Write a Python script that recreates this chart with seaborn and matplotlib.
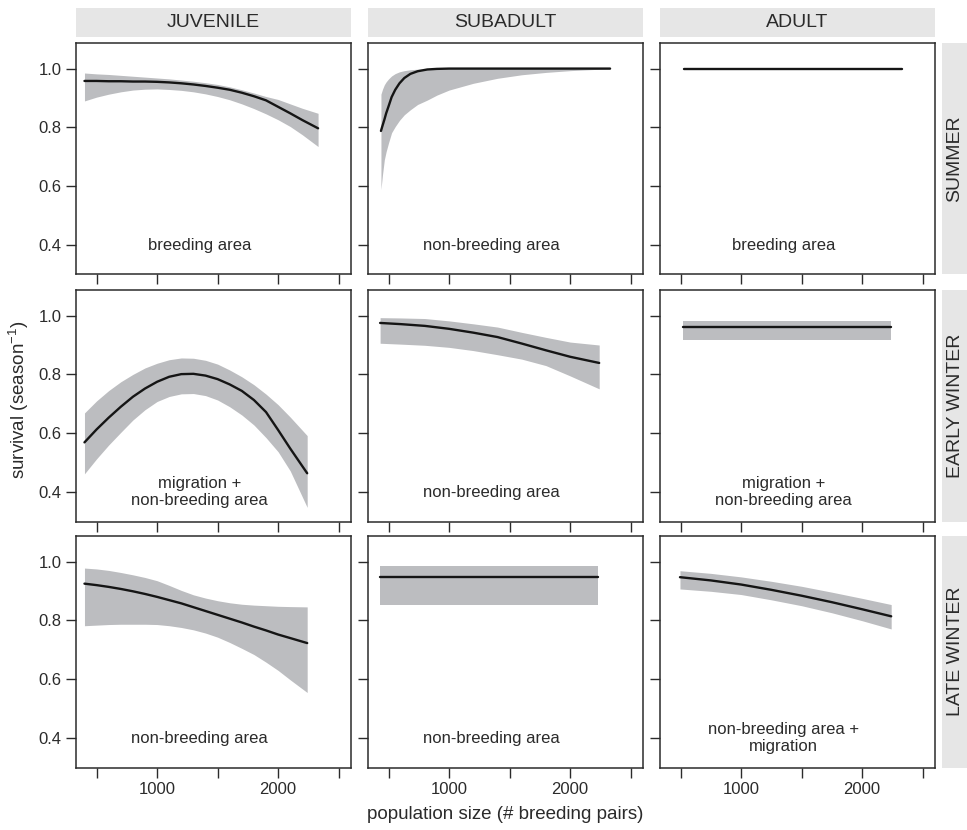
import matplotlib
matplotlib.use("Agg")
import matplotlib.pyplot as plt
from matplotlib.patches import Rectangle
import pandas as pd
import seaborn as sns

# ---------------------------------------------------------------------------
# Facet labels
# ---------------------------------------------------------------------------
stages = ["JUVENILE", "SUBADULT", "ADULT"]
seasons = ["SUMMER", "EARLY WINTER", "LATE WINTER"]

area_labels = [
    ["breeding area", "non-breeding area", "breeding area"],
    ["migration +\nnon-breeding area", "non-breeding area", "migration +\nnon-breeding area"],
    ["non-breeding area", "non-breeding area", "non-breeding area +\nmigration"],
]

x_ticks = [500, 1000, 1500, 2000, 2500]
x_ticklabels = ["", "1000", "", "2000", ""]
y_ticks = [0.4, 0.6, 0.8, 1.0]
y_ticklabels = ["0.4", "0.6", "0.8", "1.0"]

# ---------------------------------------------------------------------------
# Fitted survival (fit) with 95% credible band (lo, hi) vs. population size
# ---------------------------------------------------------------------------
# Summer
juv_sum_x   = [400, 500, 600, 700, 800, 900, 1000, 1100, 1200, 1300, 1400,
               1500, 1600, 1700, 1800, 1900, 2000, 2100, 2200, 2330]
juv_sum_fit = [0.958, 0.958, 0.957, 0.957, 0.956, 0.956, 0.955, 0.953, 0.950, 0.946, 0.941,
               0.935, 0.928, 0.918, 0.906, 0.892, 0.870, 0.848, 0.825, 0.797]
juv_sum_lo  = [0.890, 0.903, 0.913, 0.921, 0.927, 0.930, 0.931, 0.929, 0.926, 0.921, 0.914,
               0.905, 0.894, 0.880, 0.864, 0.846, 0.826, 0.803, 0.775, 0.735]
juv_sum_hi  = [0.985, 0.982, 0.980, 0.977, 0.974, 0.971, 0.968, 0.965, 0.961, 0.957, 0.952,
               0.946, 0.938, 0.928, 0.917, 0.905, 0.895, 0.880, 0.865, 0.848]

sub_sum_x   = [437, 450, 465, 480, 500, 525, 555, 590, 630, 680, 740, 820, 900, 1000,
               1200, 1400, 1600, 1800, 2000, 2200, 2330]
sub_sum_fit = [0.788, 0.806, 0.826, 0.848, 0.872, 0.903, 0.928, 0.950, 0.968, 0.982, 0.991,
               0.997, 0.999, 1.000, 1.000, 1.000, 1.000, 1.000, 1.000, 1.000, 1.000]
sub_sum_lo  = [0.589, 0.640, 0.690, 0.718, 0.748, 0.782, 0.803, 0.824, 0.843, 0.860, 0.878,
               0.893, 0.910, 0.927, 0.950, 0.967, 0.979, 0.987, 0.993, 0.997, 0.999]
sub_sum_hi  = [0.913, 0.930, 0.945, 0.955, 0.965, 0.975, 0.983, 0.989, 0.993, 0.996, 0.998,
               0.999, 1.000, 1.000, 1.000, 1.000, 1.000, 1.000, 1.000, 1.000, 1.000]

ad_sum_x   = [525, 2330]
ad_sum_fit = [1.000, 1.000]
ad_sum_lo  = [1.000, 1.000]
ad_sum_hi  = [1.000, 1.000]

# Early winter
juv_ew_x   = [400, 500, 600, 700, 800, 900, 1000, 1100, 1200, 1300, 1400,
              1500, 1600, 1700, 1800, 1900, 2000, 2100, 2240]
juv_ew_fit = [0.569, 0.613, 0.653, 0.690, 0.724, 0.752, 0.775, 0.792, 0.801, 0.802, 0.796,
              0.784, 0.766, 0.744, 0.713, 0.672, 0.611, 0.548, 0.464]
juv_ew_lo  = [0.462, 0.513, 0.560, 0.603, 0.645, 0.680, 0.708, 0.725, 0.734, 0.735, 0.728,
              0.713, 0.690, 0.662, 0.628, 0.585, 0.537, 0.472, 0.348]
juv_ew_hi  = [0.669, 0.710, 0.745, 0.775, 0.800, 0.822, 0.838, 0.850, 0.856, 0.855, 0.848,
              0.835, 0.815, 0.792, 0.765, 0.733, 0.697, 0.655, 0.592]

sub_ew_x   = [430, 600, 800, 1000, 1200, 1400, 1600, 1800, 2000, 2240]
sub_ew_fit = [0.975, 0.971, 0.965, 0.955, 0.942, 0.927, 0.905, 0.882, 0.860, 0.839]
sub_ew_lo  = [0.906, 0.903, 0.899, 0.892, 0.881, 0.867, 0.852, 0.830, 0.795, 0.751]
sub_ew_hi  = [0.993, 0.992, 0.990, 0.982, 0.972, 0.961, 0.943, 0.926, 0.910, 0.900]

ad_ew_x   = [517, 2240]
ad_ew_fit = [0.960, 0.960]
ad_ew_lo  = [0.917, 0.917]
ad_ew_hi  = [0.981, 0.981]

# Late winter
juv_lw_x   = [400, 500, 600, 700, 800, 900, 1000, 1100, 1200, 1300, 1400,
              1500, 1600, 1700, 1800, 1900, 2000, 2100, 2240]
juv_lw_fit = [0.925, 0.920, 0.914, 0.907, 0.899, 0.890, 0.880, 0.869, 0.858, 0.845, 0.832,
              0.819, 0.806, 0.793, 0.779, 0.766, 0.752, 0.740, 0.723]
juv_lw_lo  = [0.782, 0.784, 0.786, 0.787, 0.787, 0.787, 0.786, 0.782, 0.776, 0.768, 0.757,
              0.743, 0.725, 0.705, 0.684, 0.658, 0.630, 0.598, 0.555]
juv_lw_hi  = [0.978, 0.975, 0.970, 0.963, 0.955, 0.946, 0.935, 0.919, 0.902, 0.887, 0.876,
              0.867, 0.860, 0.855, 0.852, 0.850, 0.848, 0.847, 0.846]

sub_lw_x   = [430, 2231]
sub_lw_fit = [0.948, 0.948]
sub_lw_lo  = [0.854, 0.854]
sub_lw_hi  = [0.986, 0.986]

ad_lw_x   = [495, 750, 1000, 1250, 1500, 1750, 2000, 2240]
ad_lw_fit = [0.947, 0.936, 0.922, 0.904, 0.884, 0.862, 0.838, 0.814]
ad_lw_lo  = [0.907, 0.899, 0.888, 0.870, 0.850, 0.826, 0.799, 0.771]
ad_lw_hi  = [0.969, 0.960, 0.948, 0.933, 0.916, 0.896, 0.875, 0.854]

panels = [
    [(juv_sum_x, juv_sum_fit, juv_sum_lo, juv_sum_hi),
     (sub_sum_x, sub_sum_fit, sub_sum_lo, sub_sum_hi),
     (ad_sum_x, ad_sum_fit, ad_sum_lo, ad_sum_hi)],
    [(juv_ew_x, juv_ew_fit, juv_ew_lo, juv_ew_hi),
     (sub_ew_x, sub_ew_fit, sub_ew_lo, sub_ew_hi),
     (ad_ew_x, ad_ew_fit, ad_ew_lo, ad_ew_hi)],
    [(juv_lw_x, juv_lw_fit, juv_lw_lo, juv_lw_hi),
     (sub_lw_x, sub_lw_fit, sub_lw_lo, sub_lw_hi),
     (ad_lw_x, ad_lw_fit, ad_lw_lo, ad_lw_hi)],
]

# Long table: one row per (season, stage, population size)
rows = []
for r, season in enumerate(seasons):
    for c, stage in enumerate(stages):
        xs, fit, lo, hi = panels[r][c]
        for x, f, l, h in zip(xs, fit, lo, hi):
            rows.append(dict(season=season, stage=stage, pairs=x,
                             survival=f, lower=l, upper=h))
df = pd.DataFrame(rows)

# ---------------------------------------------------------------------------
# Styling
# ---------------------------------------------------------------------------
sns.set_theme(style="ticks")
plt.rcParams["font.family"] = ["Liberation Sans", "DejaVu Sans"]
plt.rcParams["mathtext.fontset"] = "custom"
plt.rcParams["mathtext.rm"] = "Liberation Sans"

INK = "#2b2b2b"
BAND = "#bcbdc0"
STRIP = "#e6e6e6"

W, H = 967, 830
fig = plt.figure(figsize=(W / 100, H / 100), dpi=100)

col_left = [76, 368, 660]
row_top = [43, 290, 536]
ax_w, ax_h = 275, 231.5


def fig_box(left, top, width, height):
    return [left / W, 1 - (top + height) / H, width / W, height / H]


for r, season in enumerate(seasons):
    for c, stage in enumerate(stages):
        ax = fig.add_axes(fig_box(col_left[c], row_top[r], ax_w, ax_h))
        sub = df[(df.season == season) & (df.stage == stage)]

        ax.fill_between(sub["pairs"], sub["lower"], sub["upper"],
                        color=BAND, linewidth=0, zorder=1)
        sns.lineplot(data=sub, x="pairs", y="survival", ax=ax,
                     color="#151515", linewidth=1.7, sort=False,
                     estimator=None, zorder=3)

        ax.text(1350, 0.40, area_labels[r][c], ha="center", va="center",
                fontsize=12, color=INK, linespacing=1.15)

        ax.set_xlim(330, 2602)
        ax.set_ylim(0.30, 1.087)
        ax.set_xticks(x_ticks)
        ax.set_yticks(y_ticks)
        ax.set_xlabel("")
        ax.set_ylabel("")
        if r == 2:
            ax.set_xticklabels(x_ticklabels)
        else:
            ax.set_xticklabels([])
        if c == 0:
            ax.set_yticklabels(y_ticklabels)
        else:
            ax.set_yticklabels([])

        ax.tick_params(direction="out", length=7.5, width=1.0, color=INK,
                       labelsize=12, labelcolor=INK, pad=3,
                       top=False, right=False)
        for s in ax.spines.values():
            s.set_visible(True)
            s.set_color(INK)
            s.set_linewidth(1.1)

        # column strip above the top row
        if r == 0:
            fig.patches.append(Rectangle(
                (col_left[c] / W, 1 - 37 / H), ax_w / W, 29 / H,
                transform=fig.transFigure, facecolor=STRIP, edgecolor="none"))
            fig.text((col_left[c] + ax_w / 2) / W, 1 - 22.5 / H, stage,
                     ha="center", va="center", fontsize=14, color=INK)
        # row strip to the right of the last column
        if c == 2:
            fig.patches.append(Rectangle(
                (942 / W, 1 - (row_top[r] + ax_h) / H), 30 / W, ax_h / H,
                transform=fig.transFigure, facecolor=STRIP, edgecolor="none"))
            fig.text(955 / W, 1 - (row_top[r] + ax_h / 2) / H, season,
                     ha="center", va="center", rotation=90,
                     fontsize=14, color=INK)

fig.text(505.5 / W, 1 - 814 / H, "population size (# breeding pairs)",
         ha="center", va="center", fontsize=13.5, color=INK)
fig.text(19 / W, 1 - 400 / H, r"survival (season$^{\mathregular{-1}}$)",
         ha="center", va="center", rotation=90, fontsize=13.5, color=INK)

fig.savefig("out.png", dpi=100, facecolor="white")
